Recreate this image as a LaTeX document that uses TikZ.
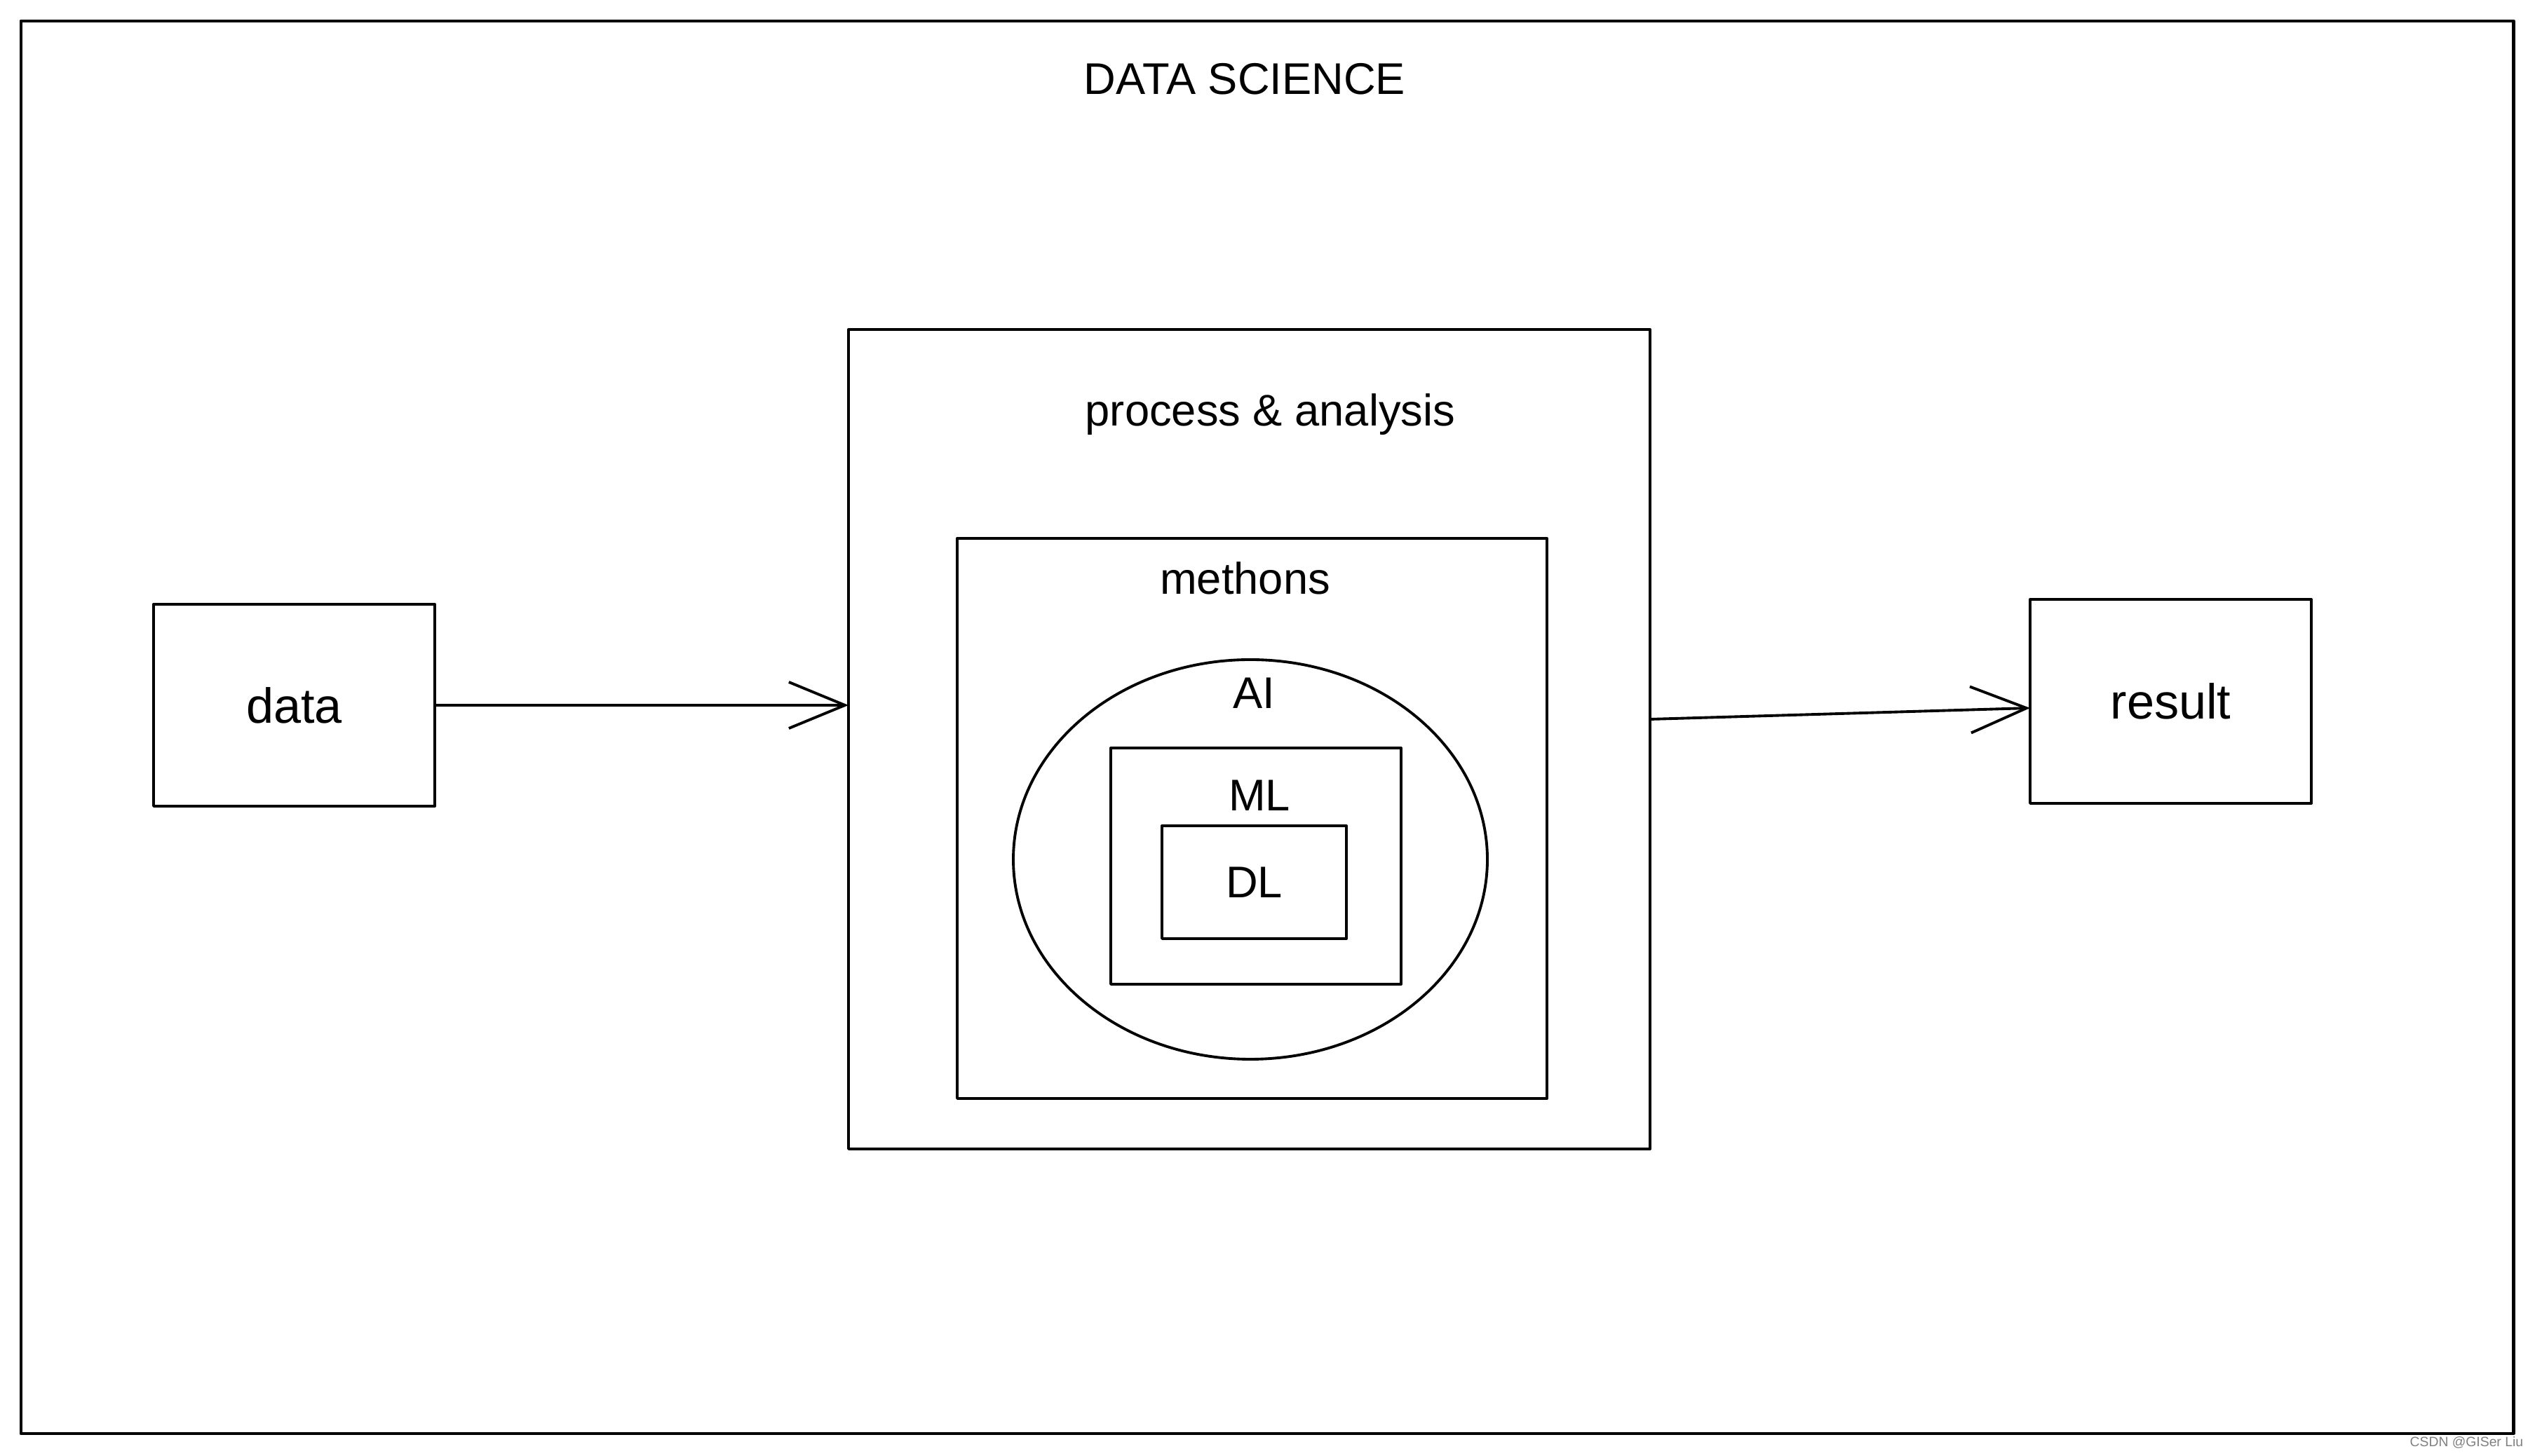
\documentclass[tikz,border=0pt]{standalone}
\usepackage{fontspec}
\setmainfont{Liberation Sans}
\usetikzlibrary{positioning,arrows.meta,shapes.geometric}
\begin{document}
\begin{tikzpicture}[line join = round, line cap = round, line width=1.1pt,
		>={Straight Barb[length=8mm,width=6.6mm,line width=1.1pt]},
		box/.style={draw,inner sep=0pt,outer sep=0pt},
		txt/.style={inner sep=0pt,font=\fontsize{18}{22}\selectfont}]
	\useasboundingbox (0,0) rectangle (36.15,20.76);
	\draw[line width=1.4pt] (0.30,20.46) rectangle (35.84,0.31);
	\node[txt,anchor=north] (title) at (17.75,19.88) {DATA SCIENCE};
	\node[box,minimum width=11.43cm,minimum height=11.69cm] (proc) at (17.815,10.215) {};
	\node[box,minimum width=8.41cm,minimum height=7.99cm] (meth) at (17.855,9.085) {};
	\node[box,ellipse,minimum width=6.76cm,minimum height=5.70cm] (ai) at (17.83,8.50) {};
	\node[box,minimum width=4.14cm,minimum height=3.37cm] (ml) at (17.91,8.405) {};
	\node[box,txt,minimum width=2.63cm,minimum height=1.61cm] (dl) at (17.885,8.175) {DL};
	\node[box,txt,minimum width=4.01cm,minimum height=2.88cm,font=\fontsize{20}{24}\selectfont] (data) at (4.195,10.70) {data};
	\node[box,txt,minimum width=4.01cm,minimum height=2.91cm,font=\fontsize{20}{24}\selectfont] (result) at (30.955,10.755) {result};
	\foreach \p/\t/\d/\s in {proc/process \& analysis/0.90/3,meth/methons/0.32/-1,ai/AI/0.24/0.5,ml/ML/0.44/0.5}
		\node[txt,below=\d cm of \p.north,xshift=\s mm] (\p-lbl) {\t};
	\draw[->] (data.east) -- (data.east -| proc.west);
	\draw[->] ([yshift=2.85mm]proc.east) -- ([yshift=-0.95mm]result.west);
	\node[anchor=south east,inner sep=0pt,gray,font=\fontsize{5.5}{7}\selectfont] (mark) at (36.0,0.08) {CSDN @GISer Liu};
\end{tikzpicture}
\end{document}
